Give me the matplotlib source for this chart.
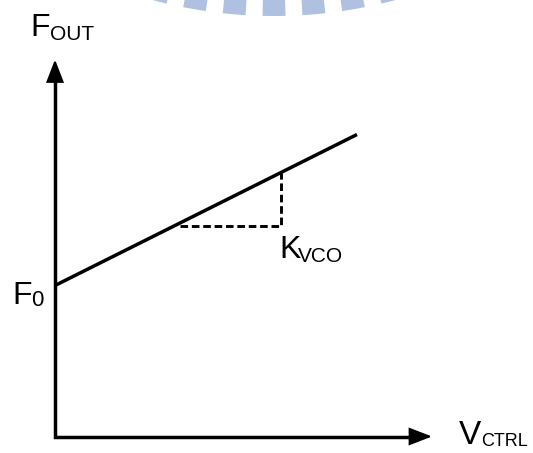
import numpy as np
import matplotlib
matplotlib.use("Agg")
import matplotlib.pyplot as plt
from matplotlib.patches import Wedge

plt.rcParams['font.family'] = ['Liberation Sans', 'DejaVu Sans']

# diagram units (origin at the axes corner, one unit ~ one pixel)
axis_len_x = 377
axis_len_y = 377
vctrl = [0, 302]            # control voltage span of the tuning line
fout = [151, 302]           # output frequency at those points
f0_level = 151
# K_VCO triangle: run from x0 to x1 at level y0, rise to y1
kvco_x = [125, 226, 226]
kvco_y = [211, 211, 264]

fig = plt.figure(figsize=(5.33, 4.53), dpi=100)
ax = fig.add_axes([0, 0, 1, 1])
ax.set_xlim(-55, 478)
ax.set_ylim(-16.5, 436.5)
ax.axis('off')

# faint watermark arc at the top edge
wm_color = '#b0c0e0'
for k in range(-4, 5):
    ang = 270 + k * 4.87
    ax.add_patch(Wedge((219, 890.5), 470, ang - 1.4, ang + 1.4, width=40,
                       facecolor=wm_color, edgecolor='none'))

# axes: one polyline for a clean corner, arrowheads on the ends
head = 18
ax.plot([0, 0, axis_len_x - head], [axis_len_y - head, 0, 0], color='black', lw=2.5,
        solid_joinstyle='miter', solid_capstyle='butt')
arrow = dict(arrowstyle='-|>,head_length=0.7,head_width=0.27', mutation_scale=20,
             lw=1.5, color='black', shrinkA=0, shrinkB=0, joinstyle='miter')
ax.annotate('', xy=(axis_len_x, 0), xytext=(axis_len_x - head - 2, 0), arrowprops=arrow)
ax.annotate('', xy=(0, axis_len_y), xytext=(0, axis_len_y - head - 2), arrowprops=arrow)

# tuning line and K_VCO slope triangle
ax.plot(vctrl, fout, color='black', lw=2.5, solid_capstyle='butt')
ax.plot(kvco_x, kvco_y, color='black', lw=2.1, linestyle=(0, (2.6, 1.3)),
        dash_joinstyle='miter')

main_fs = 23
sub_fs = 15
ax.text(-25, 400, 'F', fontsize=main_fs, ha='left', va='baseline')
ax.text(-5, 396.5, 'OUT', fontsize=sub_fs, ha='left', va='baseline')
ax.text(-43, f0_level - 19, 'F', fontsize=main_fs, ha='left', va='baseline')
ax.text(-24, f0_level - 21, '0', fontsize=sub_fs + 1, ha='left', va='baseline')
ax.text(224, 179, 'K', fontsize=main_fs, ha='left', va='baseline')
ax.text(243, 175, 'VCO', fontsize=sub_fs, ha='left', va='baseline')
ax.text(426, -8, 'V', fontsize=main_fs + 1, ha='right', va='baseline')
ax.text(426, -10, 'CTRL', fontsize=13, ha='left', va='baseline')

fig.savefig('out.png', dpi=100)
